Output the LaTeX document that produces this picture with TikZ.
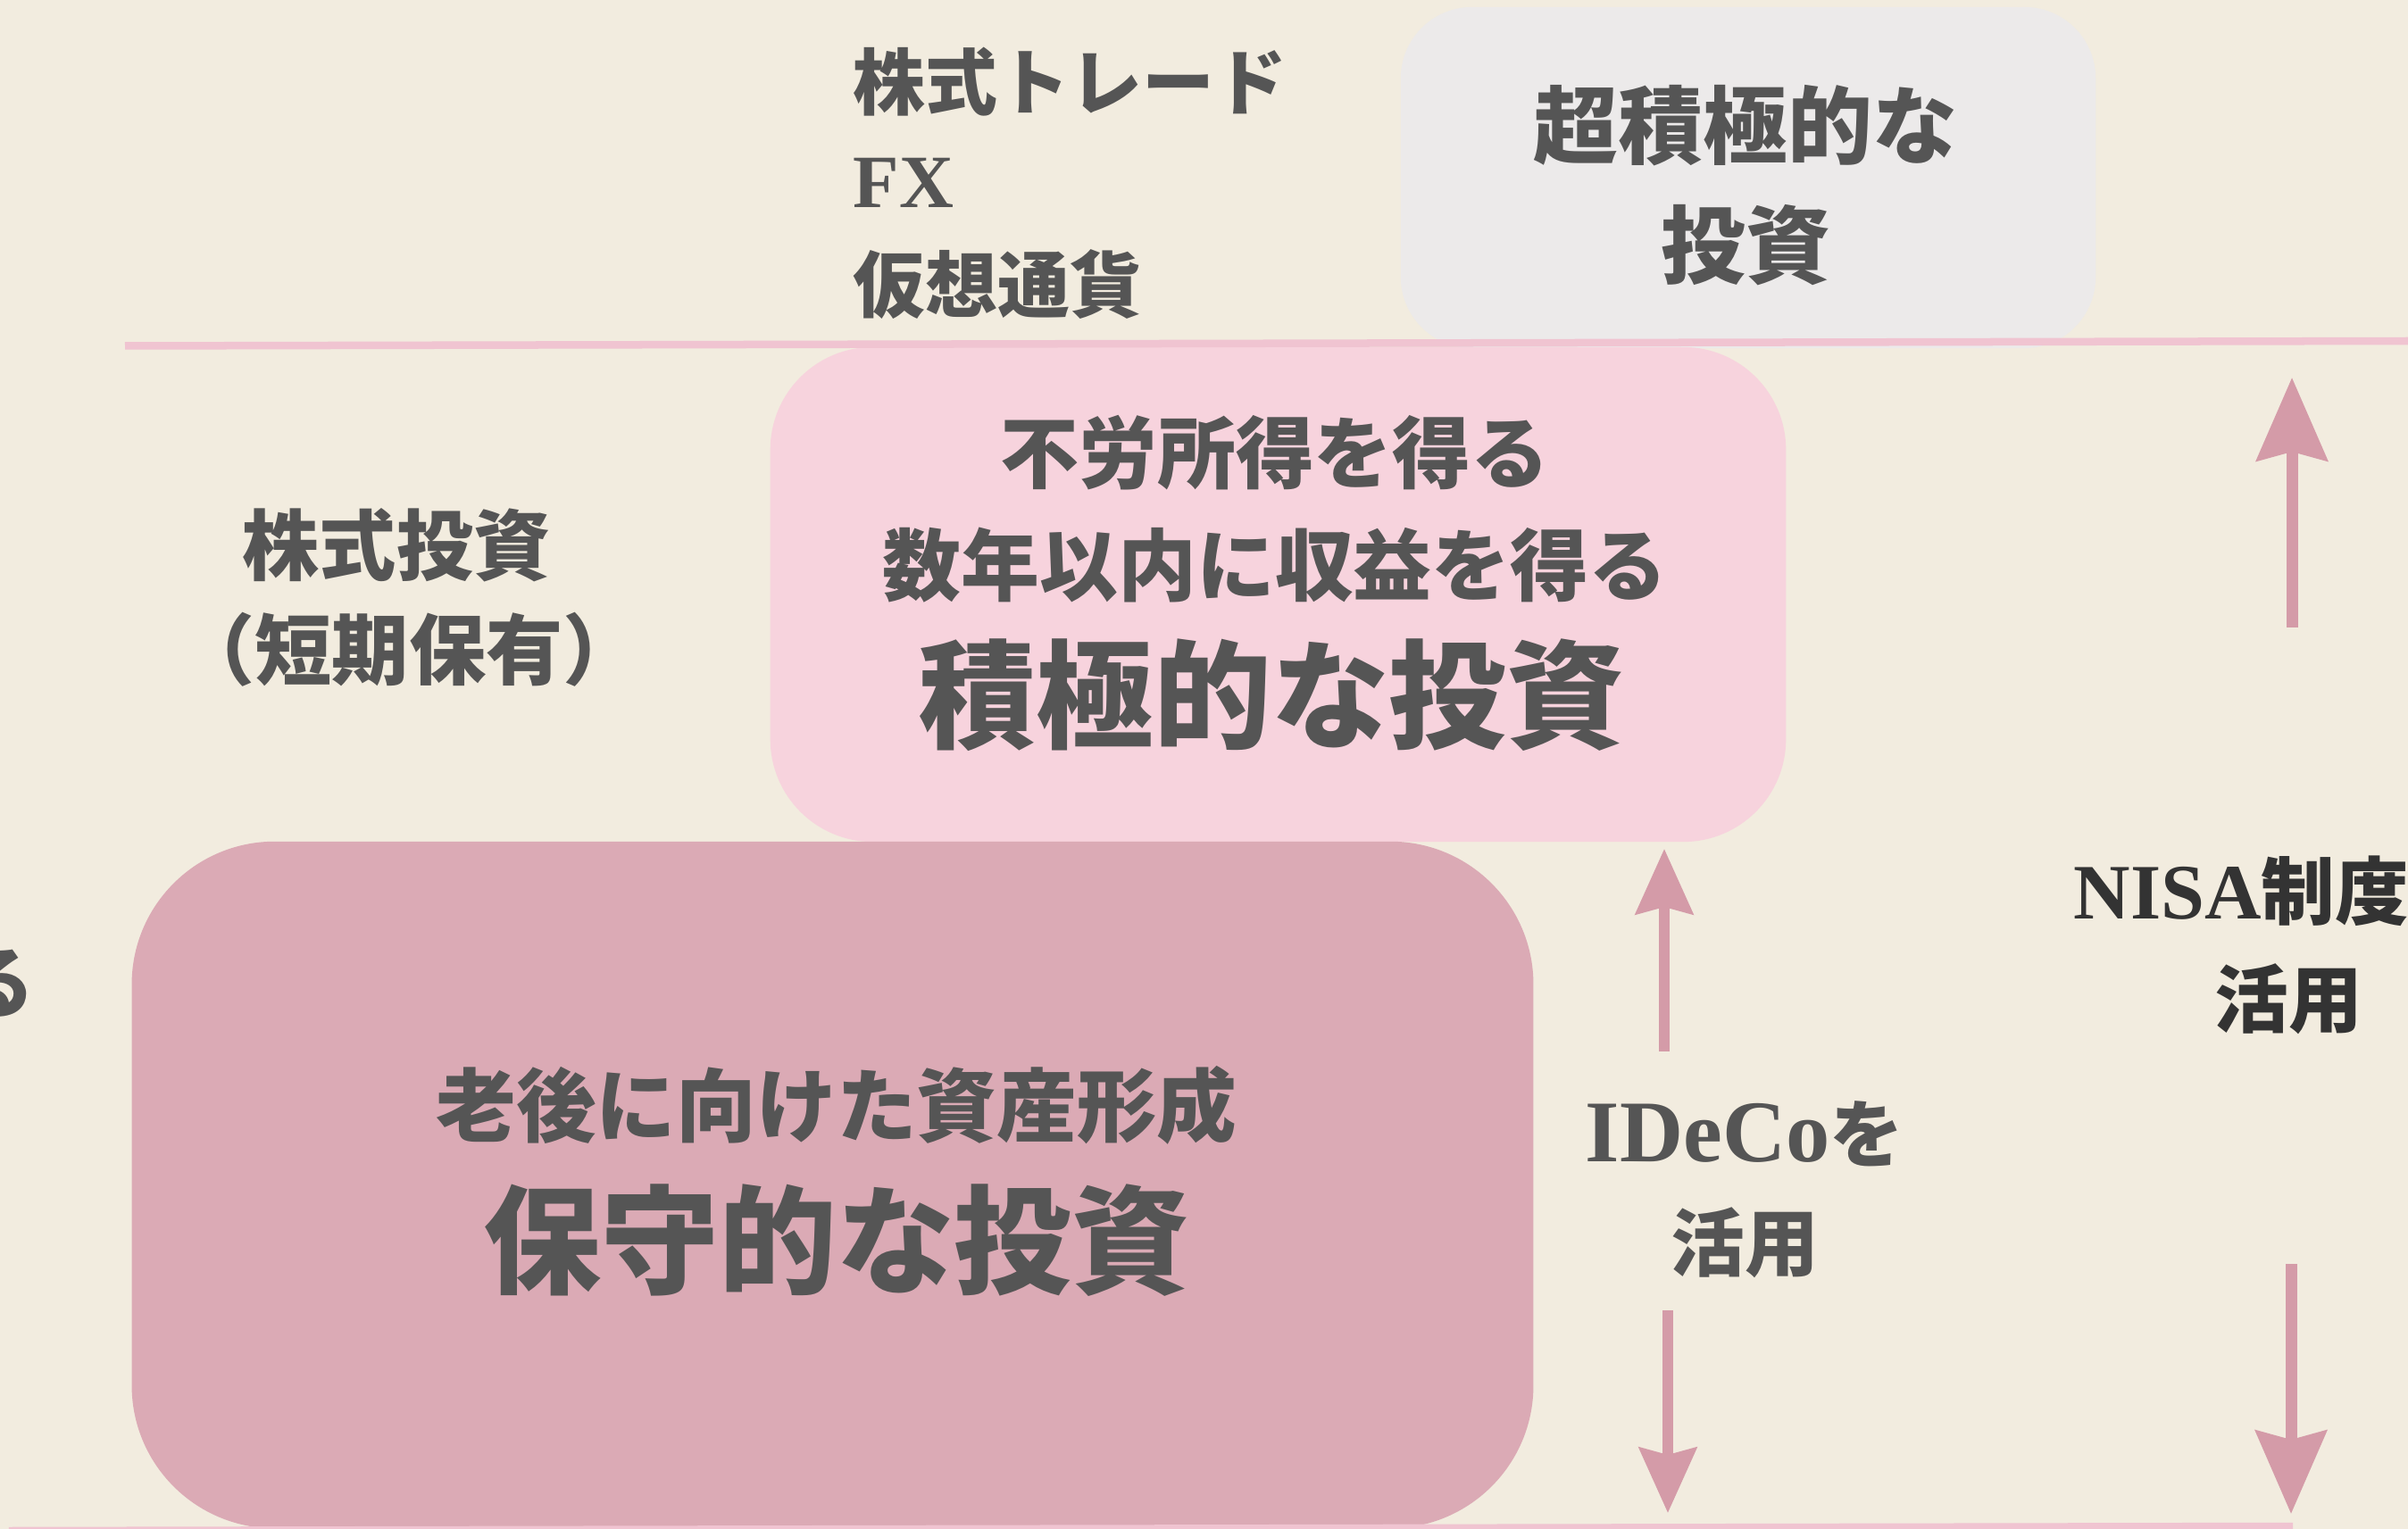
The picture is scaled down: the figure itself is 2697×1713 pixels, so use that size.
\documentclass[tikz,border=0pt]{standalone}
\usepackage{fontspec}
\setmainfont{Liberation Serif}
\newfontfamily\cjk{Noto Sans CJK JP}
\newfontfamily\lat{Liberation Serif}
\usetikzlibrary{arrows.meta}
\definecolor{bg}{HTML}{F2ECDF}
\definecolor{greybox}{HTML}{ECEAEA}
\definecolor{pinkbox}{HTML}{F7D3DD}
\definecolor{darkbox}{HTML}{DBAAB5}
\definecolor{sepcol}{HTML}{F0C4D1}
\definecolor{arrcol}{HTML}{D49BA8}
\definecolor{txtgrey}{HTML}{555555}
\definecolor{txtdark}{HTML}{333333}
\tikzset{
  panel/.style={fill=#1, draw=none, inner sep=0pt},
  sepline/.style={draw=sepcol, line width=0.085cm},
  arrA/.style={draw=arrcol, line width=0.115cm, -{Stealth[length=0.73cm, width=0.64cm, inset=0.08cm]}, arrcol},
  arrB/.style={draw=arrcol, line width=0.13cm, -{Stealth[length=0.93cm, width=0.79cm, inset=0.1cm]}, arrcol},
  txt/.style={text=txtgrey, inner sep=0pt, font=\cjk\bfseries},
  fs/.style={font=\cjk\bfseries\fontsize{#1}{#1}\selectfont}
}
\begin{document}
\begin{tikzpicture}[x=0.01cm, y=-0.01cm]
\useasboundingbox (0,0) rectangle (2697,1713);
\fill[bg] (0,0) rectangle (2697,1713);

% panels
\node[panel=greybox, rounded corners=0.8cm, minimum width=7.78cm, minimum height=3.82cm] (grey) at (1958,199) {};
\node[panel=pinkbox, rounded corners=1.15cm, minimum width=11.37cm, minimum height=5.54cm] (pink) at (1431.5,666) {};
\node[panel=darkbox, rounded corners=1.6cm, minimum width=15.69cm, minimum height=7.69cm] (dark) at (932.5,1327.5) {};

% separator lines
\coordinate (tl1) at (140,387.5);
\coordinate (tl2) at (2700,382);
\draw[sepline] (tl1) -- (tl2);
\coordinate (bl1) at (10,1715);
\coordinate (bl2) at (2568,1710);
\draw[sepline] (bl1) -- (bl2);

% arrows
\coordinate (iu1) at (1864,1178);
\coordinate (iu2) at (1864,951);
\coordinate (id1) at (1868,1468);
\coordinate (id2) at (1868,1695);
\draw[arrA] (iu1) -- (iu2);
\draw[arrA] (id1) -- (id2);
\coordinate (nu1) at (2567,703);
\coordinate (nu2) at (2567,423);
\coordinate (nd1) at (2566,1416);
\coordinate (nd2) at (2566,1696);
\draw[arrB] (nu1) -- (nu2);
\draw[arrB] (nd1) -- (nd2);

% top-left list
\node[txt, fs=23, anchor=west] (l1) at (955,92) {株式トレード};
\node[txt, fs=23, anchor=west] (l2) at (955,205) {\lat\fontsize{24}{24}\selectfont FX};
\node[txt, fs=23, anchor=west] (l3) at (955,319) {仮想通貨};

% grey box text
\node[txt, fs=27] (g1) at (1955,141) {超積極的な};
\node[txt, fs=27] (g2) at (1955,275) {投資};

% pink box text
\node[txt, fs=25] (p1) at (1428,507) {不労所得を得る};
\node[txt, fs=25] (p2) at (1428,633) {数年以内に収益を得る};
\node[txt, fs=37.5] (p3) at (1424,779) {積極的な投資};

% left middle
\node[txt, fs=24.5] (s1) at (444,611) {株式投資};
\node[txt, fs=24.5] (s2) at (458,728) {（短期保有）};

% dark box text
\node[txt, fs=25.5] (d1) at (937,1238) {老後に向けた資産形成};
\node[txt, fs=37.5] (d2) at (937,1390) {保守的な投資};

% cut-off text at left edge
\node[txt, fs=25, anchor=east] (cut1) at (40,1102) {る};

% IDeCo label
\node[txt, fs=23.5] (i1) at (1954,1270) {{\lat\fontsize{28}{28}\selectfont IDeCo}を};
\node[txt, fs=23.5] (i2) at (1954,1392) {活用};

% NISA label
\node[txt, fs=23.5, text=txtdark, anchor=west] (n1) at (2322,998) {{\lat\fontsize{25}{25}\selectfont NISA}制度を};
\node[txt, fs=23.5, text=txtdark] (n2) at (2563,1119) {活用};
\end{tikzpicture}
\end{document}
